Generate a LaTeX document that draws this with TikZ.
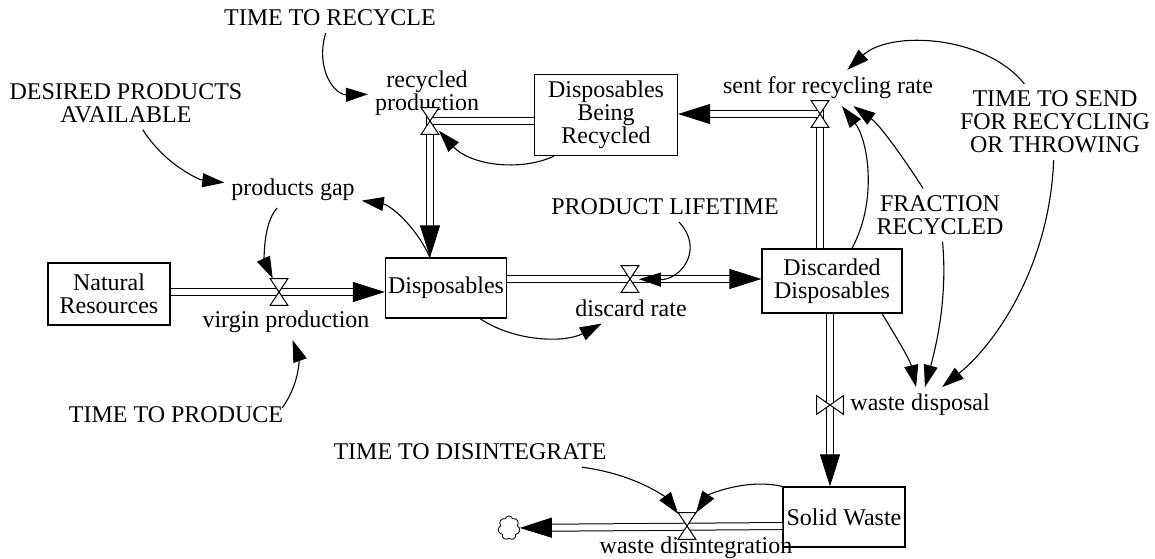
\documentclass[tikz,border=0pt]{standalone}
\usepackage{fontspec}
\setmainfont{Liberation Serif}
\usetikzlibrary{arrows.meta,shapes.symbols}
\tikzset{
  stock/.style={draw,line width=.6pt,fill=white,inner sep=0pt,align=center},
  valve/.style={inner sep=0pt,minimum width=8.5pt,minimum height=13pt},
  sidevalve/.style={inner sep=0pt,minimum width=13pt,minimum height=9pt},
  pipe/.style={draw,line width=.5pt,double,double distance=3pt,-{Triangle[length=16pt,width=10pt]}},
  info/.style={draw,line width=.55pt,-{Triangle[length=11pt,width=7pt]}},
  lbl/.style={align=center},
  sink/.style={cloud,cloud puffs=7,draw,line width=.4pt,inner sep=0pt,minimum width=11pt,minimum height=12pt},
}
\newcommand{\hourglass}[1]{\filldraw[fill=white,line width=.5pt] (#1.north west) -- (#1.north east) -- (#1.south west) -- (#1.south east) -- cycle;}
\newcommand{\sidehourglass}[1]{\filldraw[fill=white,line width=.5pt] (#1.north west) -- (#1.south west) -- (#1.north east) -- (#1.south east) -- cycle;}

\begin{document}
\begin{tikzpicture}[x=.5pt,y=-.5pt,font=\fontsize{12}{11.5}\selectfont]
  \useasboundingbox (0,0) rectangle (1155,558);
  % stocks
  \node[stock,minimum width=61pt,minimum height=31pt] (natres) at (109,294) {Natural\\Resources};
  \node[stock,minimum width=60.5pt,minimum height=30pt] (disp) at (446,288) {Disposables};
  \node[stock,minimum width=71.5pt,minimum height=40.5pt] (dbr) at (606,115) {Disposables\\Being\\Recycled};
  \node[stock,minimum width=70pt,minimum height=32pt] (dd) at (832,281) {Discarded\\Disposables};
  \node[stock,minimum width=61pt,minimum height=30pt] (sw) at (844,517) {Solid Waste};
  \node[sink] (sink) at (509,528) {};
  % valves
  \node[valve] (vp) at (279,292) {};
  \node[valve] (rp) at (430,121) {};
  \node[valve] (dr) at (630,279) {};
  \node[valve] (sr) at (820,114) {};
  \node[sidevalve] (wd) at (830,405) {};
  \node[valve] (wdi) at (687,526) {};
  % rate names
  \node[lbl] (vplab) at (286,322) {virgin production};
  \node[lbl] (rplab) at (427,93) {recycled\\production};
  \node[lbl] (drlab) at (631,308) {discard rate};
  \node[lbl] (srlab) at (828,88) {sent for recycling rate};
  \node[lbl,anchor=west] (wdlab) at (wd.east) {waste disposal};
  \node[lbl] (wdilab) at (696,548) {waste disintegration};
  % auxiliaries and constants
  \node[lbl] (ttr) at (330,18) {TIME TO RECYCLE};
  \node[lbl] (dpa) at (126,103) {DESIRED PRODUCTS\\AVAILABLE};
  \node[lbl] (gap) at (293,190) {products gap};
  \node[lbl] (tpr) at (176,415) {TIME TO PRODUCE};
  \node[lbl] (plt) at (665,207) {PRODUCT LIFETIME};
  \node[lbl] (tts) at (1055,122) {TIME TO SEND\\FOR RECYCLING\\OR THROWING};
  \node[lbl] (fr) at (940,215) {FRACTION\\RECYCLED};
  \node[lbl] (ttd) at (470,452) {TIME TO DISINTEGRATE};
  % flows
  \draw[pipe] (natres.east |- vp) -- (disp.west |- vp);
  \draw[pipe] (dbr.west |- rp) -- (rp.center) -- (rp |- disp.north);
  \draw[pipe] (disp.east |- dr) -- (dd.west |- dr);
  \draw[pipe] (sr |- dd.north) -- (sr.center) -- (dbr.east |- sr);
  \draw[pipe] (wd |- dd.south) -- (wd |- sw.north);
  \draw[pipe] (sw.west |- wdi) -- (sink);
  \hourglass{vp}
  \hourglass{rp}
  \hourglass{dr}
  \hourglass{sr}
  \sidehourglass{wd}
  \hourglass{wdi}
  % links
  \draw[info] (ttr) .. controls (315,70) and (335,95) .. (rplab);
  \draw[info] (dpa) .. controls (165,165) and (200,180) .. (gap);
  \draw[info] ([xshift=-8pt]disp.north) .. controls (415,225) and (390,205) .. (gap);
  \draw[info] (gap) .. controls (262,225) and (265,262) .. (vp);
  \draw[info] ([xshift=-4pt,yshift=-4pt]tpr.north east) .. controls (302,380) and (298,355) .. (vplab);
  \draw[info] ([xshift=17pt]disp.south) .. controls (515,342) and (565,343) .. (drlab);
  \draw[info] (plt) .. controls (705,250) and (680,280) .. (dr);
  \draw[info] ([xshift=-26pt]dbr.south) .. controls (520,172) and (470,165) .. (rp);
  \draw[info] ([xshift=10pt]dd.north) .. controls (878,200) and (868,140) .. (srlab);
  \draw[info] (fr) .. controls (905,160) and (880,125) .. (srlab);
  \draw[info] (tts) .. controls (985,35) and (890,30) .. (srlab);
  \draw[info] ([xshift=25pt]dd.south) .. controls (898,340) and (910,360) .. (wdlab);
  \draw[info] (fr) .. controls (948,300) and (935,350) .. (wdlab);
  \draw[info] (tts) .. controls (1050,260) and (1000,340) .. (wdlab);
  \draw[info] (ttd) .. controls (640,475) and (668,500) .. (wdi);
  \draw[info] (sw.north west) .. controls (745,478) and (708,495) .. (wdi);
\end{tikzpicture}
\end{document}
